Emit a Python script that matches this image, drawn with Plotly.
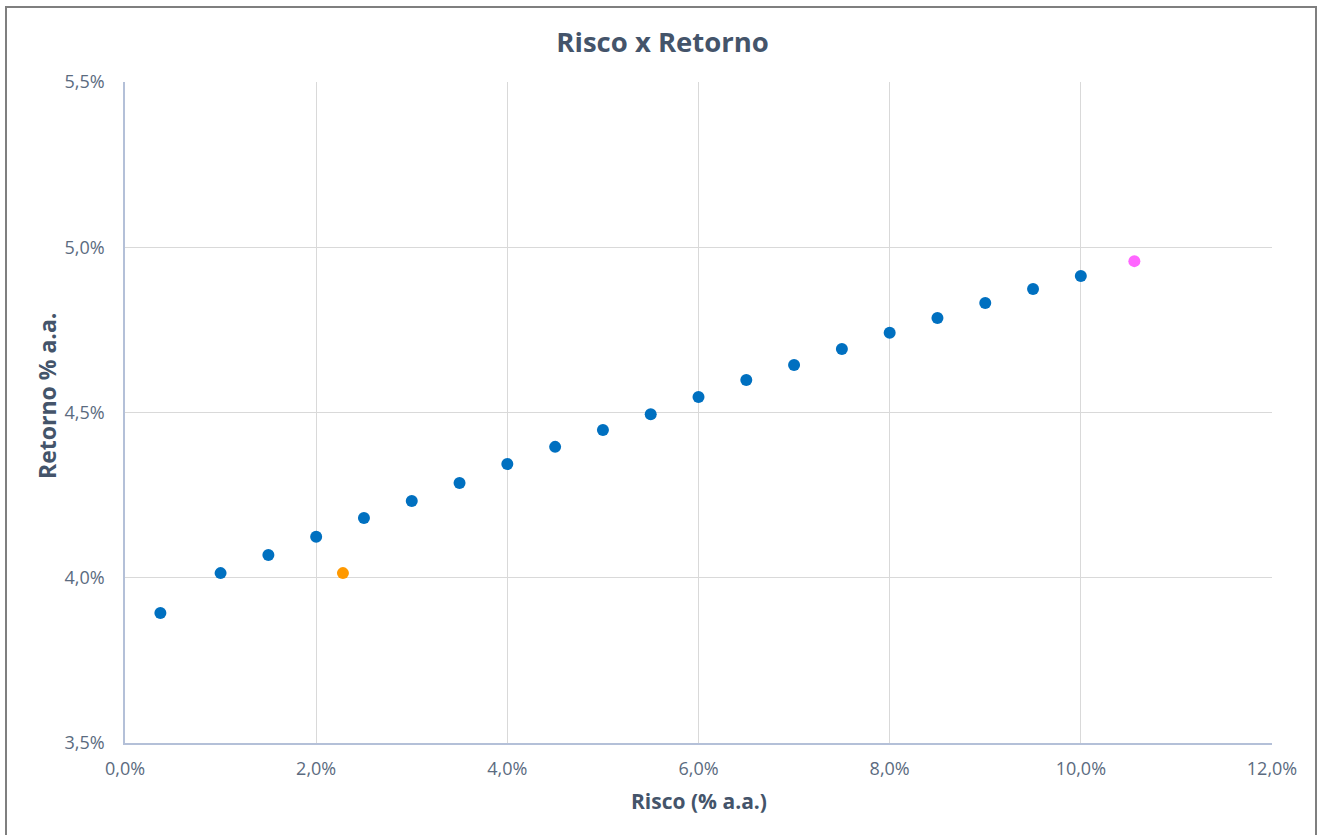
import plotly.graph_objects as go

# Carteiras da fronteira (risco, retorno) em % a.a.
risco = [0.37, 1.0, 1.5, 2.0, 2.5, 3.0, 3.5, 4.0, 4.5, 5.0, 5.5, 6.0, 6.5, 7.0,
         7.5, 8.0, 8.5, 9.0, 9.5, 10.0]
retorno = [3.893, 4.014, 4.069, 4.124, 4.181, 4.232, 4.287, 4.344, 4.396, 4.447,
           4.495, 4.547, 4.598, 4.644, 4.692, 4.741, 4.786, 4.831, 4.874, 4.913]

# Carteiras destacadas
risco_laranja = [2.28]
retorno_laranja = [4.014]
risco_rosa = [10.56]
retorno_rosa = [4.958]

x_ticks = [0, 2, 4, 6, 8, 10, 12]
x_labels = ["0,0%", "2,0%", "4,0%", "6,0%", "8,0%", "10,0%", "12,0%"]
y_ticks = [3.5, 4.0, 4.5, 5.0, 5.5]
y_labels = ["3,5%", "4,0%", "4,5%", "5,0%", "5,5%"]

FONT = "Open Sans"
TICK_COLOR = "#5b6b80"
TITLE_COLOR = "#44546a"

fig = go.Figure()
fig.add_trace(go.Scatter(x=risco, y=retorno, mode="markers",
                         marker=dict(size=12, color="#0070c0"), showlegend=False))
fig.add_trace(go.Scatter(x=risco_laranja, y=retorno_laranja, mode="markers",
                         marker=dict(size=12, color="#ff9900"), showlegend=False))
fig.add_trace(go.Scatter(x=risco_rosa, y=retorno_rosa, mode="markers",
                         marker=dict(size=12, color="#ff66ff"), showlegend=False))

L, R, T, B = 125, 48, 82, 92
W, H = 1320, 835
pw, ph = W - L - R, H - T - B

fig.update_layout(
    width=W, height=H,
    margin=dict(l=L, r=R, t=T, b=B),
    paper_bgcolor="white", plot_bgcolor="white",
    font=dict(family=FONT, color=TICK_COLOR, size=18),
    title=dict(text="<b>Risco x Retorno</b>", x=0.502, xref="container", xanchor="center",
               y=(H - 42) / H, yanchor="middle",
               font=dict(family=FONT, size=27.5, color=TITLE_COLOR)),
    xaxis=dict(range=[0, 12], tickvals=x_ticks, ticktext=x_labels,
               showgrid=True, gridcolor="#d9d9d9", gridwidth=1,
               showline=True, linecolor="#b4c0d8", linewidth=1.5,
               zeroline=False, ticks="", ticklabelstandoff=9),
    yaxis=dict(range=[3.5, 5.5], tickvals=y_ticks, ticktext=y_labels,
               showgrid=True, gridcolor="#d9d9d9", gridwidth=1,
               showline=True, linecolor="#b4c0d8", linewidth=1.5,
               zeroline=False, ticks="", ticklabelstandoff=15),
)

# Títulos dos eixos
fig.add_annotation(text="<b>Risco (% a.a.)</b>", xref="paper", yref="paper",
                   x=(699 - L) / pw, y=-(801 - (H - B)) / ph,
                   xanchor="center", yanchor="middle", showarrow=False,
                   font=dict(family=FONT, size=21, color=TITLE_COLOR))
fig.add_annotation(text="<b>Retorno % a.a.</b>", xref="paper", yref="paper",
                   x=-(L - 47) / pw, y=((H - B) - 396) / ph, textangle=-90,
                   xanchor="center", yanchor="middle", showarrow=False,
                   font=dict(family=FONT, size=23, color=TITLE_COLOR))

# Moldura externa do gráfico
fig.add_shape(type="rect", xref="paper", yref="paper",
              x0=(6 - L) / pw, x1=(1316 - L) / pw,
              y0=-0.2, y1=(H - B - 7) / ph,
              line=dict(color="#7f7f7f", width=2), layer="below")

fig.write_html("out.html")
